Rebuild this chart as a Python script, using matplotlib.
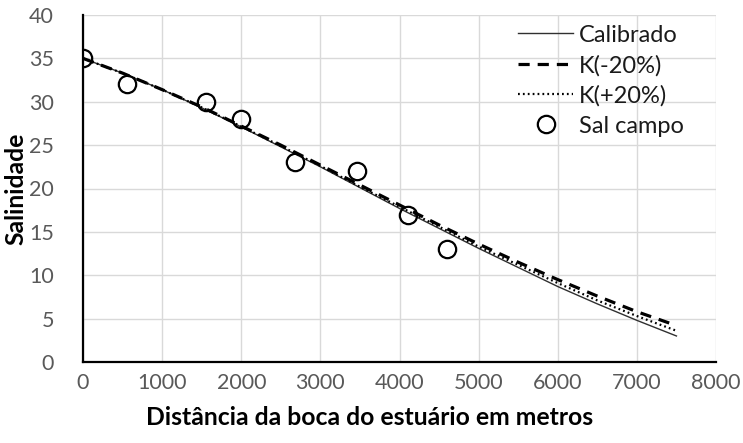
import matplotlib
matplotlib.use("Agg")
import matplotlib.pyplot as plt

plt.rcParams['font.family'] = ['Lato', 'DejaVu Sans']

# Model curves (distance in m, salinity)
dist_model = [0, 500, 1000, 1500, 2000, 2500, 3000, 3500, 4000, 4500,
              5000, 5500, 6000, 6500, 7000, 7500]
sal_calibrado = [35.0, 33.3, 31.4, 29.3, 27.1, 24.8, 22.5, 20.1, 17.7, 15.4,
                 13.1, 10.9, 8.7, 6.7, 4.8, 3.0]
sal_k_minus20 = [35.0, 33.3, 31.4, 29.4, 27.2, 25.0, 22.7, 20.4, 18.1, 15.8,
                 13.6, 11.5, 9.5, 7.6, 5.8, 4.2]
sal_k_plus20 = [35.0, 33.3, 31.4, 29.35, 27.15, 24.9, 22.6, 20.2, 17.9, 15.6,
                13.3, 11.2, 9.1, 7.1, 5.3, 3.6]

# Field measurements
dist_campo = [0, 550, 1550, 2000, 2680, 3460, 4110, 4600]
sal_campo = [35, 32, 30, 28, 23, 22, 17, 13]

x_ticks = [0, 1000, 2000, 3000, 4000, 5000, 6000, 7000, 8000]
y_ticks = [0, 5, 10, 15, 20, 25, 30, 35, 40]

W, H = 743, 443
fig = plt.figure(figsize=(W / 100, H / 100), dpi=100)
ax = fig.add_axes([83 / W, (H - 362) / H, (716 - 83) / W, (362 - 15) / H])

ax.plot(dist_model, sal_calibrado, color='#303030', lw=1.0, label='Calibrado', zorder=3)
ax.plot(dist_model, sal_k_minus20, color='black', lw=2.3, ls=(0, (3.5, 2.5)),
        label='K(-20%)', zorder=3)
ax.plot(dist_model, sal_k_plus20, color='black', lw=1.6, ls=(0, (0.8, 1.4)),
        label='K(+20%)', zorder=3)
ax.plot(dist_campo, sal_campo, ls='none', marker='o', ms=12.5, mfc='none',
        mec='black', mew=1.6, label='Sal campo', zorder=4)

ax.set_xlim(0, 8000)
ax.set_ylim(0, 40)
ax.set_xticks(x_ticks)
ax.set_yticks(y_ticks)
ax.grid(True, color='#d9d9d9', lw=1.0)
ax.set_axisbelow(True)
for s in ('top', 'right'):
    ax.spines[s].set_visible(False)
for s in ('left', 'bottom'):
    ax.spines[s].set_color('black')
    ax.spines[s].set_linewidth(1.6)
ax.tick_params(length=0, labelsize=15.5, colors='#595959')
ax.tick_params(axis='x', pad=8)
ax.tick_params(axis='y', pad=21)

ax.set_xlabel('Distância da boca do estuário em metros', fontsize=17.8,
              fontweight='bold')
ax.set_ylabel('Salinidade', fontsize=17.8, fontweight='bold')
ax.xaxis.set_label_coords(0.452, -0.126)
ax.yaxis.set_label_coords(-0.088, 0.5)

leg = ax.legend(loc='upper left', bbox_to_anchor=(0.687, 0.972), frameon=False,
                fontsize=17, handlelength=2.35, handletextpad=0.25,
                labelspacing=0.38, borderaxespad=0.0, borderpad=0.0)
for t in leg.get_texts():
    t.set_color('#1a1a1a')

fig.savefig('out.png', dpi=100)
